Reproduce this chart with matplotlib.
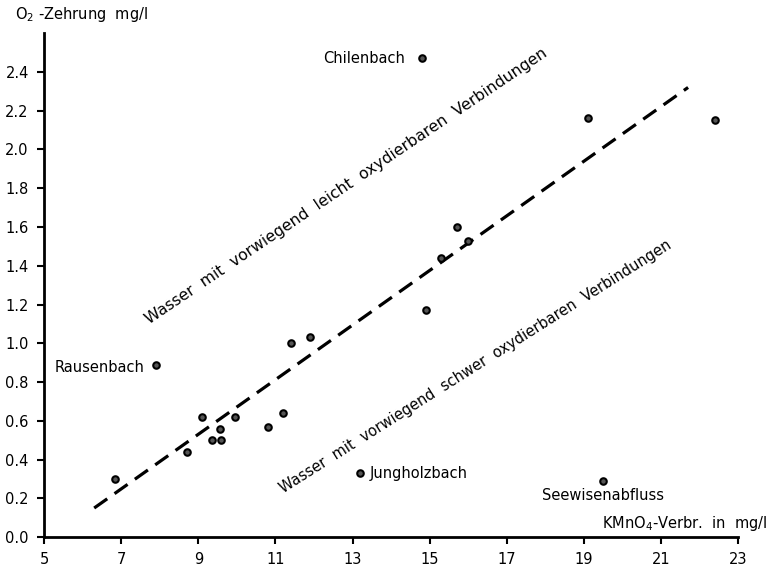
import matplotlib
matplotlib.use("Agg")
import matplotlib.pyplot as plt
import numpy as np

# data (KMnO4 consumption mg/l, O2 depletion mg/l)
kmno4 = [6.85, 7.9, 8.7, 9.1, 9.35, 9.55, 9.6, 9.95, 10.8, 11.2, 11.4, 11.9,
         13.2, 14.8, 14.9, 15.3, 15.7, 16.0, 19.1, 19.5, 22.4]
o2 = [0.30, 0.89, 0.44, 0.62, 0.50, 0.56, 0.50, 0.62, 0.57, 0.64, 1.00, 1.03,
      0.33, 2.47, 1.17, 1.44, 1.60, 1.53, 2.16, 0.29, 2.15]

named_x = [14.8, 7.9, 13.2, 19.5]
named_y = [2.47, 0.89, 0.33, 0.29]
names = ["Chilenbach", "Rausenbach", "Jungholzbach", "Seewisenabfluss"]

trend_x = [6.3, 21.7]
trend_y = [0.15, 2.32]

x_ticks = [5, 7, 9, 11, 13, 15, 17, 19, 21, 23]
y_ticks = [0.0, 0.2, 0.4, 0.6, 0.8, 1.0, 1.2, 1.4, 1.6, 1.8, 2.0, 2.2, 2.4]

plt.rcParams['font.family'] = ['DejaVu Sans']
fig = plt.figure(figsize=(7.73, 5.72), dpi=100)
ax = fig.add_axes([0.057, 0.061, 0.898, 0.881])

ax.plot(trend_x, trend_y, color='black', lw=2.3, dashes=(5, 2.8))
ax.scatter(kmno4, o2, s=22, facecolor='#555555', edgecolor='black', linewidths=1.5, zorder=3)

ax.set_xlim(5, 23)
ax.set_ylim(0, 2.6)
ax.set_xticks(x_ticks)
ax.set_xticklabels([str(v) for v in x_ticks])
ax.set_yticks(y_ticks)
ax.set_yticklabels([f"{v:.1f}" for v in y_ticks])
for s in ['top', 'right']:
    ax.spines[s].set_visible(False)
for s in ['left', 'bottom']:
    ax.spines[s].set_linewidth(2.0)
ax.tick_params(axis='both', direction='out', length=5, width=1.5, labelsize=10.5, pad=6)

# point labels
ax.annotate(names[0], (named_x[0], named_y[0]), xytext=(-12, 0), textcoords='offset points',
            ha='right', va='center', fontsize=10.5)
ax.annotate(names[1], (named_x[1], named_y[1]), xytext=(-8, -2), textcoords='offset points',
            ha='right', va='center', fontsize=10.5)
ax.annotate(names[2], (named_x[2], named_y[2]), xytext=(7, 0), textcoords='offset points',
            ha='left', va='center', fontsize=10.5)
ax.annotate(names[3], (named_x[3], named_y[3]), xytext=(0, -5), textcoords='offset points',
            ha='center', va='top', fontsize=10.5)

# region labels
ax.text(12.85, 1.81, "Wasser  mit  vorwiegend  leicht  oxydierbaren  Verbindungen",
        rotation=34, rotation_mode='anchor', ha='center', va='center', fontsize=11.3)
ax.text(16.2, 0.88, "Wasser  mit  vorwiegend  schwer  oxydierbaren  Verbindungen",
        rotation=32.3, rotation_mode='anchor', ha='center', va='center', fontsize=10.5)

# axis titles
fig.text(0.02, 0.975, "O$_2$ -Zehrung  mg/l", ha='left', va='center', fontsize=10.5)
fig.text(0.993, 0.085, "KMnO$_4$-Verbr.  in  mg/l", ha='right', va='center', fontsize=10.5)

fig.savefig("out.png", dpi=100)
